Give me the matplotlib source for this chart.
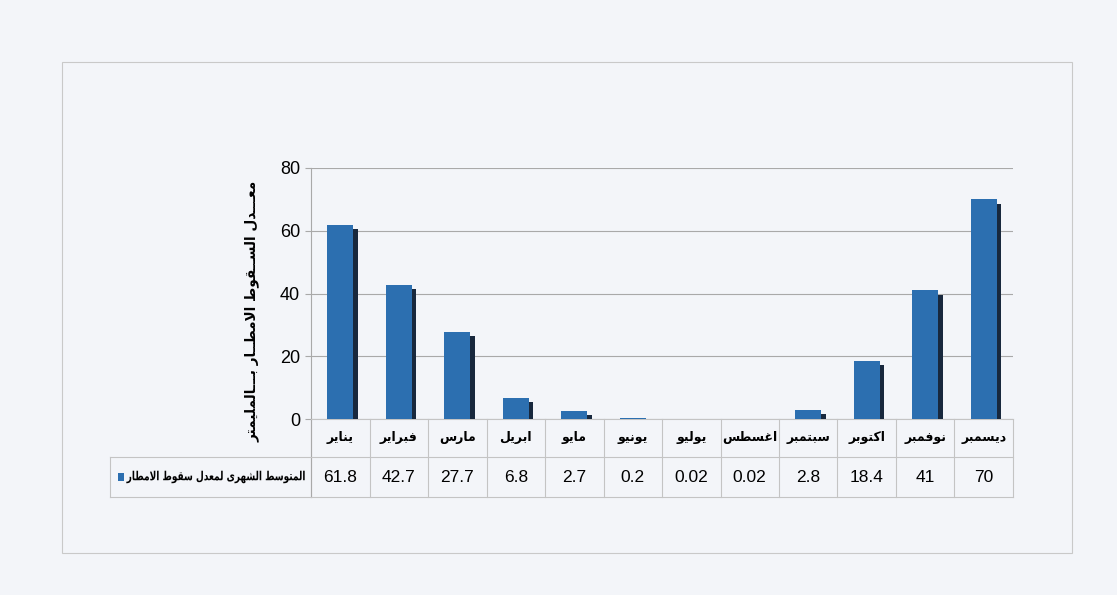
import numpy as np
import matplotlib
matplotlib.use("Agg")
import matplotlib.pyplot as plt
import matplotlib.patheffects as pe
from matplotlib.transforms import blended_transform_factory, Affine2D
from matplotlib.patches import Rectangle, PathPatch
from matplotlib.textpath import TextPath
from matplotlib.font_manager import FontProperties

# بيانات المتوسط الشهري لسقوط الامطار (مم)
months = ["يناير", "فبراير", "مارس", "ابريل", "مايو", "يونيو",
          "يوليو", "اغسطس", "سبتمبر", "اكتوبر", "نوفمبر", "ديسمبر"]
rain = [61.8, 42.7, 27.7, 6.8, 2.7, 0.2, 0.02, 0.02, 2.8, 18.4, 41, 70]
value_labels = ["61.8", "42.7", "27.7", "6.8", "2.7", "0.2",
                "0.02", "0.02", "2.8", "18.4", "41", "70"]
yticks = [0, 20, 40, 60, 80]
series_name = "المتوسط الشهرى لمعدل سقوط الامطار"
ylabel = "معـــدل الســقوط الامطــار بـــالمليمتر"

# matplotlib لا يقوم بتشكيل الحروف العربية، لذلك نحولها يدويا
# (isolated, final, initial, medial)
DUAL = {
    'ب': '\ufe8f\ufe90\ufe91\ufe92', 'ت': '\ufe95\ufe96\ufe97\ufe98',
    'س': '\ufeb1\ufeb2\ufeb3\ufeb4', 'ش': '\ufeb5\ufeb6\ufeb7\ufeb8',
    'ط': '\ufec1\ufec2\ufec3\ufec4', 'ع': '\ufec9\ufeca\ufecb\ufecc',
    'غ': '\ufecd\ufece\ufecf\ufed0', 'ف': '\ufed1\ufed2\ufed3\ufed4',
    'ق': '\ufed5\ufed6\ufed7\ufed8', 'ك': '\ufed9\ufeda\ufedb\ufedc',
    'ل': '\ufedd\ufede\ufedf\ufee0', 'م': '\ufee1\ufee2\ufee3\ufee4',
    'ن': '\ufee5\ufee6\ufee7\ufee8', 'ه': '\ufee9\ufeea\ufeeb\ufeec',
    'ي': '\ufef1\ufef2\ufef3\ufef4', 'ـ': '\u0640\u0640\u0640\u0640',
}
RIGHT = {
    'ا': '\ufe8d\ufe8e', 'د': '\ufea9\ufeaa', 'ر': '\ufead\ufeae',
    'و': '\ufeed\ufeee', 'ى': '\ufeef\ufef0', 'إ': '\ufe87\ufe88',
    'لا': '\ufefb\ufefc',
}


def shape(text):
    toks = []
    i = 0
    while i < len(text):
        if text[i] == 'ل' and i + 1 < len(text) and text[i + 1] == 'ا':
            toks.append('لا')
            i += 2
        else:
            toks.append(text[i])
            i += 1
    out = []
    for k, t in enumerate(toks):
        prev = toks[k - 1] if k > 0 else None
        nxt = toks[k + 1] if k + 1 < len(toks) else None
        jp = prev in DUAL
        if t in DUAL:
            jn = nxt in DUAL or nxt in RIGHT
            f = DUAL[t]
            out.append(f[3] if jp and jn else f[1] if jp else f[2] if jn else f[0])
        elif t in RIGHT:
            out.append(RIGHT[t][1] if jp else RIGHT[t][0])
        else:
            out.append(t)
    return ''.join(reversed(out))


def narrow_text(fig, xy, s, trans, size, sx, ha='center'):
    # نص عربي مضغوط افقيا (مرسوم كمسار)
    tp = TextPath((0, 0), s, size=size, prop=FontProperties(family='DejaVu Sans', weight='bold'))
    bb = tp.get_extents()
    x0 = bb.x1 if ha == 'right' else (bb.x0 + bb.x1) / 2
    px, py = trans.transform(xy)
    k = fig.dpi / 72
    t = Affine2D().translate(-x0, -(bb.y0 + bb.y1) / 2).scale(sx * k, k).translate(px, py)
    fig.add_artist(PathPatch(tp, transform=t, facecolor='black', edgecolor='none'))


bg = '#f3f5f9'
grid_c = '#a9a9a9'
line_c = '#c4c4c4'
bar_c = '#2c6fb0'
num_font = ['Liberation Sans', 'DejaVu Sans']
ar_kw = dict(fontfamily=['DejaVu Sans'], fontweight='bold')

fig = plt.figure(figsize=(11.17, 5.95), dpi=100, facecolor=bg)
ax = fig.add_axes([311 / 1117, 176 / 595, 702 / 1117, 251 / 595])
ax.set_facecolor(bg)

x = np.arange(len(months))
bars = ax.bar(x, rain, width=0.45, color=bar_c, zorder=3)
for b in bars:
    b.set_path_effects([pe.SimplePatchShadow(offset=(3, -3), shadow_rgbFace='#18283d', alpha=1.0),
                        pe.Normal()])

ax.set_xlim(-0.5, len(months) - 0.5)
ax.set_ylim(0, 80)
ax.set_yticks(yticks)
ax.set_yticklabels([str(v) for v in yticks], fontfamily=num_font, fontsize=13)
ax.tick_params(axis='y', length=4, color=grid_c, pad=4)
ax.set_xticks([])
ax.yaxis.grid(True, color=grid_c, lw=0.8, zorder=0)
for s in ['top', 'right']:
    ax.spines[s].set_visible(False)
ax.spines['left'].set_color(grid_c)
ax.spines['bottom'].set_color(line_c)

ax.set_ylabel(shape(ylabel), fontsize=9.8, **ar_kw)
ax.yaxis.set_label_coords(-0.074, 0.43)

# جدول البيانات أسفل المحور
tr = blended_transform_factory(ax.transData, ax.transAxes)
r1 = 38 / 251
r2 = 78 / 251
leg_left = (110 - 311) / 702
for k in range(len(months) + 1):
    ax.plot([k / 12, k / 12], [0, -r2], transform=ax.transAxes, color=line_c,
            lw=0.8, clip_on=False)
ax.plot([0, 0], [0, -r2], transform=ax.transAxes, color=grid_c, lw=0.8, clip_on=False)
for yy in [-r1, -r2]:
    ax.plot([leg_left, 1], [yy, yy], transform=ax.transAxes, color=line_c, lw=0.8, clip_on=False)
ax.plot([leg_left, leg_left], [-r1, -r2], transform=ax.transAxes, color=line_c, lw=0.8, clip_on=False)

for k, (m, v) in enumerate(zip(months, value_labels)):
    ax.text(k, -r1 / 2, shape(m), transform=tr, ha='center', va='center',
            fontsize=9, **ar_kw)
    ax.text(k, -(r1 + r2) / 2, v, transform=tr, ha='center', va='center',
            fontfamily=num_font, fontsize=12.5)

narrow_text(fig, (-0.009, -(r1 + r2) / 2), shape(series_name), ax.transAxes,
            size=9, sx=0.72, ha='right')
ax.add_patch(Rectangle((leg_left + 0.011, -(r1 + r2) / 2 - 0.014), 0.009, 0.028,
                       transform=ax.transAxes, facecolor=bar_c, edgecolor='none', clip_on=False))

# إطار المخطط
fig.patches.append(Rectangle((62 / 1117, 1 - 553 / 595), 1010 / 1117, 491 / 595,
                             transform=fig.transFigure, fill=False, edgecolor='#c9c9c9', lw=0.8))

fig.savefig('out.png', dpi=100, facecolor=bg)
